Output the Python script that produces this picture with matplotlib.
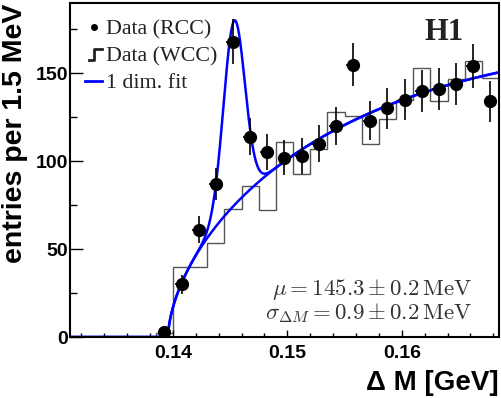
import numpy as np
import matplotlib
matplotlib.use("Agg")
import matplotlib.pyplot as plt
from matplotlib.legend_handler import HandlerBase
from matplotlib.lines import Line2D
from matplotlib.ticker import MultipleLocator

# ---------------- data ----------------
x_min, x_max = 0.131, 0.1685
bin_width = 0.0015
n_bins = 25
# wrong-charge combination histogram (per bin, from x_min)
wcc_counts = [0, 0, 0, 0, 0, 2.5, 40, 40, 53.5, 73, 86, 72.5, 111, 92.5, 107,
              128, 126, 110, 124, 135, 153, 134, 147, 157, 147.5]
# right-charge combination data (bins 5..24)
rcc_first_bin = 5
rcc_counts = [3, 30, 61, 87, 168, 114, 105, 102, 103, 110, 120, 155, 123, 130,
              135, 140, 141, 144, 154, 134]
rcc_xerr = 0.0006

# fit parameters
m_pi = 0.13957
bg_norm, bg_pow, bg_slope = 28.1, 0.5965, 0.01136   # dx in MeV
sig_amp, sig_mu, sig_sigma = 105.0, 0.14535, 0.00093

# ---------------- derived ----------------
edges = x_min + bin_width * np.arange(n_bins + 1)
centers = 0.5 * (edges[:-1] + edges[1:])
rcc_x = centers[rcc_first_bin:rcc_first_bin + len(rcc_counts)]
rcc_y = np.array(rcc_counts, dtype=float)


def background(x):
    dx = np.clip((x - m_pi) * 1000.0, 0, None)
    return bg_norm * dx ** bg_pow * np.exp(-bg_slope * dx)


def full_fit(x):
    return background(x) + sig_amp * np.exp(-0.5 * ((x - sig_mu) / sig_sigma) ** 2) * (x > m_pi)


xs = np.linspace(x_min, x_max, 3000)

# ---------------- figure ----------------
plt.rcParams['mathtext.fontset'] = 'cm'
fig = plt.figure(figsize=(5.01, 3.98), dpi=100)
ax = fig.add_axes([70 / 501, 1 - 337 / 398, 429 / 501, 334 / 398])

ax.stairs(wcc_counts, edges, color='#555555', lw=1.0)
ax.plot(xs, background(xs), color='#0000ff', lw=1.8)
ax.plot(xs, full_fit(xs), color='#0000ff', lw=1.8)
ax.errorbar(rcc_x, rcc_y, yerr=np.sqrt(rcc_y), xerr=rcc_xerr, fmt='o',
            color='black', ms=8.5, elinewidth=1.2, capsize=0, zorder=5)

ax.set_xlim(x_min, x_max)
ax.set_ylim(0, 190)
ax.xaxis.set_major_locator(MultipleLocator(0.01))
ax.xaxis.set_minor_locator(MultipleLocator(0.002))
ax.yaxis.set_major_locator(MultipleLocator(50))
ax.yaxis.set_minor_locator(MultipleLocator(25))
ax.tick_params(axis='both', which='both', direction='in', top=False, right=False, width=1)
ax.tick_params(axis='x', which='major', length=5, pad=6)
ax.tick_params(axis='x', which='minor', length=3)
ax.tick_params(axis='y', which='major', length=9.4, pad=1.5)
ax.tick_params(axis='y', which='minor', length=5)
ax.set_xticks([0.14, 0.15, 0.16])
ax.set_xticklabels(['0.14', '0.15', '0.16'])
ax.set_yticks([0, 50, 100, 150])
ax.set_yticklabels(['0', '50', '100', '150'])
for lab in ax.get_xticklabels() + ax.get_yticklabels():
    lab.set_fontfamily('Liberation Sans')
    lab.set_fontweight('bold')
    lab.set_fontsize(14)
for s in ax.spines.values():
    s.set_linewidth(1.5)

fig.text(0.030, 0.992, 'entries per 1.5 MeV', rotation=90, ha='center', va='top',
         fontfamily='Liberation Sans', fontweight='bold', fontsize=20.5)
fig.text(0.996, 0.038, '\u0394 M [GeV]', ha='right', va='center',
         fontfamily='Liberation Sans', fontweight='bold', fontsize=20)

ax.text(0.872, 0.912, 'H1', transform=ax.transAxes, ha='center', va='center',
        fontfamily='Liberation Serif', fontweight='bold', fontsize=22, color='#222222')
ax.text(0.937, 0.108,
        r'$\mu = 145.3 \pm 0.2\,\mathrm{MeV}$' + '\n' + r'$\sigma_{\Delta M} = 0.9 \pm 0.2\,\mathrm{MeV}$',
        transform=ax.transAxes, ha='right', va='center', multialignment='right',
        linespacing=0.95, fontsize=16.5, color='#333333')


class StepHandler(HandlerBase):
    def create_artists(self, legend, orig_handle, xdescent, ydescent, width, height,
                       fontsize, trans):
        x0, y0 = -xdescent, -ydescent
        xs_ = [x0 + 0.2 * width, x0 + 0.55 * width, x0 + 0.55 * width, x0 + 1.0 * width]
        ys_ = [y0 + 0.1 * height, y0 + 0.1 * height, y0 + 0.8 * height, y0 + 0.8 * height]
        ln = Line2D(xs_, ys_, color='#222222', lw=2.0, transform=trans)
        return [ln]


h_rcc = Line2D([], [], marker='o', ls='none', color='black', ms=4)
h_wcc = Line2D([], [], color='#222222')
h_fit = Line2D([], [], color='#0000ff', lw=2)
leg = ax.legend([h_rcc, h_wcc, h_fit], ['Data (RCC)', 'Data (WCC)', '1 dim. fit'],
                handler_map={h_wcc: StepHandler()}, loc='upper left',
                bbox_to_anchor=(0.036, 0.952), frameon=False, borderpad=0, borderaxespad=0,
                handlelength=0.75, handletextpad=0.2, labelspacing=0.3,
                prop={'family': 'Liberation Serif', 'size': 15.8})
for t in leg.get_texts():
    t.set_color('#222222')

fig.savefig('out.png', dpi=100)
